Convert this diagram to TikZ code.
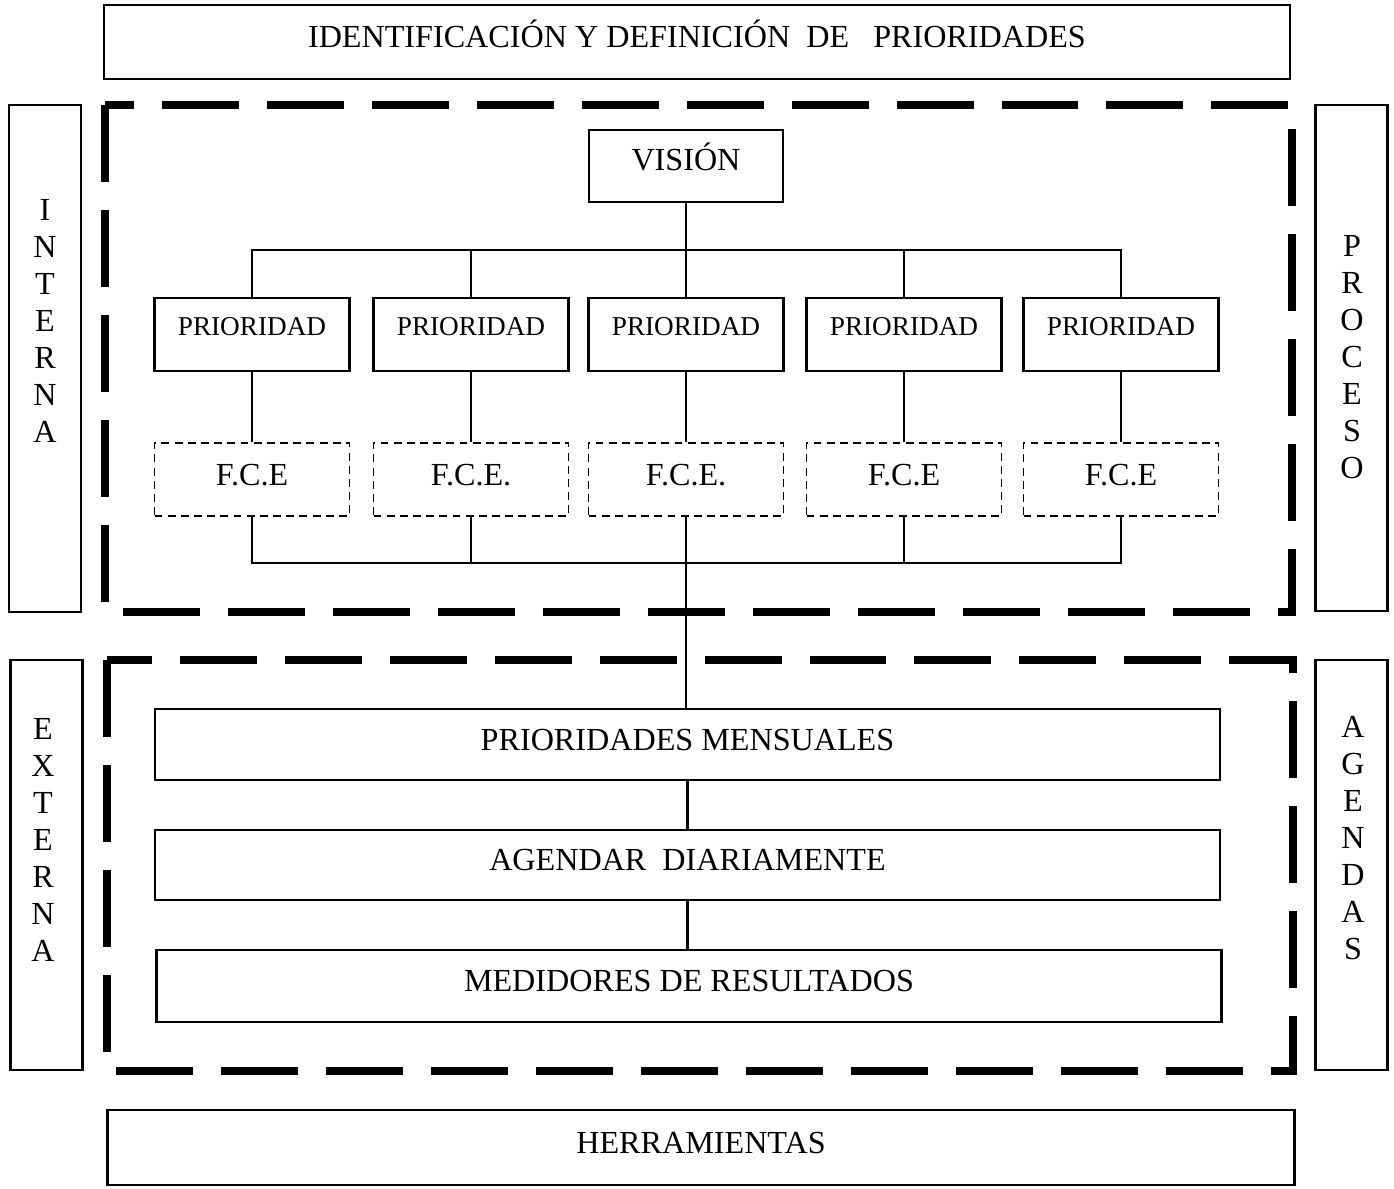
\documentclass[tikz,border=0pt]{standalone}
\usepackage{fontspec}
\setmainfont{Liberation Serif}

\begin{document}
\begin{tikzpicture}[
		x=0.02cm, y=-0.02cm,
		line width=1.3pt,
		every node/.style = {
			inner sep=0pt, align=center,
			font=\fontsize{18.3}{21}\selectfont},
		caja/.style = {
			draw, shape=rectangle, line width=1.3pt,
			text height=0.43cm, text depth=0.2cm},
		prio/.style = {
			caja, minimum width=3.9cm, minimum height=1.46cm,
			font=\fontsize{15.5}{18}\selectfont,
			text height=0.36cm, text depth=0.34cm},
		fce/.style = {
			caja, minimum width=3.9cm, minimum height=1.46cm,
			line width=1.1pt, dash pattern=on 4.5pt off 3pt},
		franja/.style = {
			caja, minimum width=21.3cm, minimum height=1.42cm},
		lado/.style = {draw, line width=1.3pt, minimum width=1.44cm},
		letras/.style = {font=\fontsize{18.3}{21}\selectfont},
		borde/.style = {line width=5.1pt, dash pattern=on 1.54cm off 0.56cm}]
		\useasboundingbox (0,0) rectangle (1394,1188);
		% marcos de trazo grueso
		\draw[borde] (105,105) rectangle (1292,612);
		\draw[borde] (107,660) rectangle (1293,1071);
		% titulo y pie
		\node[caja, minimum width=23.72cm, minimum height=1.48cm] (titulo) at (697,42)
			{IDENTIFICACIÓN Y DEFINICIÓN\ \ DE\ \ \ PRIORIDADES};
		\node[caja, minimum width=23.74cm, minimum height=1.5cm] (herram) at (701,1147.5)
			{HERRAMIENTAS};
		% columnas laterales
		\node[lado, minimum height=10.14cm] (interna) at (45,358.5) {};
		\node[letras] (txtInterna) at (45,321) {I\\N\\T\\E\\R\\N\\A};
		\node[lado, minimum height=10.12cm] (proceso) at (1351.5,358) {};
		\node[letras] (txtProceso) at (1352,357) {P\\R\\O\\C\\E\\S\\O};
		\node[lado, minimum height=8.2cm] (externa) at (46.5,865) {};
		\node[letras] (txtExterna) at (43,840) {E\\X\\T\\E\\R\\N\\A};
		\node[lado, minimum height=8.2cm] (agendas) at (1351.5,865) {};
		\node[letras] (txtAgendas) at (1353,838) {A\\G\\E\\N\\D\\A\\S};
		% arbol de prioridades
		\node[caja, minimum width=3.88cm, minimum height=1.44cm, text depth=0.24cm] (vis) at (686,166) {VISIÓN};
		\foreach \i/\x/\etiq in {1/252/F.C.E, 2/471/F.C.E., 3/686/F.C.E., 4/904/F.C.E, 5/1121/F.C.E} {
			\node[prio] (p\i) at (\x,334.5) {PRIORIDAD};
			\node[fce] (f\i) at (\x,479.5) {\etiq};
			\draw (p\i.south) -- (f\i.north);
		}
		\coordinate (busSup) at (686,250);
		\coordinate (busInf) at (686,563);
		\draw (vis.south) -- (p3.north);
		\draw (p1.north) |- (busSup) -| (p5.north);
		\draw (p2.north) -- (p2.north |- busSup);
		\draw (p4.north) -- (p4.north |- busSup);
		\draw (f1.south) |- (busInf) -| (f5.south);
		\draw (f2.south) -- (f2.south |- busInf);
		\draw (f4.south) -- (f4.south |- busInf);
		% agenda
		\node[franja] (mens) at (687.5,744.5) {PRIORIDADES MENSUALES};
		\node[franja, minimum height=1.4cm] (agen) at (687.5,865) {AGENDAR\ \ DIARIAMENTE};
		\node[franja, minimum height=1.44cm] (medi) at (689,986) {MEDIDORES DE RESULTADOS};
		\draw (f3.south) -- (f3.south |- mens.north);
		\draw (mens.south) -- (mens.south |- agen.north);
		\draw (agen.south) -- (agen.south |- medi.north);
	\end{tikzpicture}
\end{document}
